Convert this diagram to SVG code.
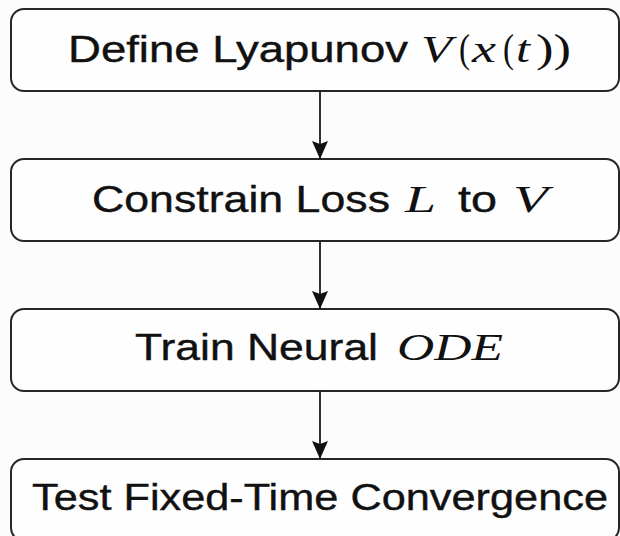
<svg xmlns="http://www.w3.org/2000/svg" width="620" height="536" viewBox="0 0 620 536">
  <style>
    .box { fill: #fefefe; stroke: #262626; stroke-width: 2; }
    .edge { stroke: #1a1a1a; stroke-width: 1.8; fill: none; }
    .lbl { font-family: "Liberation Sans", Arial, sans-serif; font-size: 37px; fill: #111; stroke: #111; stroke-width: 0.4; }
    .math { font-family: "Liberation Serif", "DejaVu Serif", serif; font-style: italic; stroke: none; }
    .paren { font-family: "Liberation Serif", "DejaVu Serif", serif; font-style: normal; stroke: none; font-size: 40px; }
  </style>
  <defs>
    <!-- notched arrowhead, tip at the end of the line -->
    <marker id="arrow" markerUnits="userSpaceOnUse" markerWidth="22" markerHeight="20" viewBox="-20 -10 22 20" refX="0" refY="0" orient="auto">
      <path d="M0,0 L-18,-8 L-15,0 L-18,8 Z" fill="#111"/>
    </marker>
  </defs>

  <rect width="620" height="536" fill="#fcfcfc"/>

  <!-- flow steps -->
  <g id="step-define">
    <rect class="box" x="11" y="9" width="608" height="82" rx="13"/>
    <text class="lbl" y="62">
      <tspan x="68" textLength="340" lengthAdjust="spacingAndGlyphs">Define Lyapunov</tspan>
      <tspan class="math" x="421" textLength="31" lengthAdjust="spacingAndGlyphs">V</tspan>
      <tspan class="paren" x="459" textLength="11" lengthAdjust="spacingAndGlyphs">(</tspan>
      <tspan class="math" x="472" textLength="24" lengthAdjust="spacingAndGlyphs">x</tspan>
      <tspan class="paren" x="503" textLength="11" lengthAdjust="spacingAndGlyphs">(</tspan>
      <tspan class="math" x="516" textLength="14" lengthAdjust="spacingAndGlyphs">t</tspan>
      <tspan class="paren" x="536" textLength="35" lengthAdjust="spacingAndGlyphs">))</tspan>
    </text>
  </g>

  <g id="step-constrain">
    <rect class="box" x="11" y="159" width="608" height="82" rx="13"/>
    <text class="lbl" y="211.5">
      <tspan x="92" textLength="298" lengthAdjust="spacingAndGlyphs">Constrain Loss</tspan>
      <tspan class="math" x="405" textLength="31" lengthAdjust="spacingAndGlyphs">L</tspan>
      <tspan x="458" textLength="39" lengthAdjust="spacingAndGlyphs">to</tspan>
      <tspan class="math" x="513" textLength="35" lengthAdjust="spacingAndGlyphs">V</tspan>
    </text>
  </g>

  <g id="step-train">
    <rect class="box" x="11" y="309" width="608" height="82" rx="13"/>
    <text class="lbl" y="359.5">
      <tspan x="135" textLength="243" lengthAdjust="spacingAndGlyphs">Train Neural</tspan>
      <tspan class="math" x="397" textLength="106" lengthAdjust="spacingAndGlyphs">ODE</tspan>
    </text>
  </g>

  <g id="step-test">
    <rect class="box" x="11" y="459" width="608" height="82" rx="13"/>
    <text class="lbl" y="510">
      <tspan x="32" textLength="576" lengthAdjust="spacingAndGlyphs">Test Fixed-Time Convergence</tspan>
    </text>
  </g>

  <!-- connectors -->
  <g id="connectors">
    <line class="edge" x1="320" y1="91" x2="320" y2="159" marker-end="url(#arrow)"/>
    <line class="edge" x1="320" y1="241" x2="320" y2="309" marker-end="url(#arrow)"/>
    <line class="edge" x1="320" y1="391" x2="320" y2="459" marker-end="url(#arrow)"/>
  </g>
</svg>
